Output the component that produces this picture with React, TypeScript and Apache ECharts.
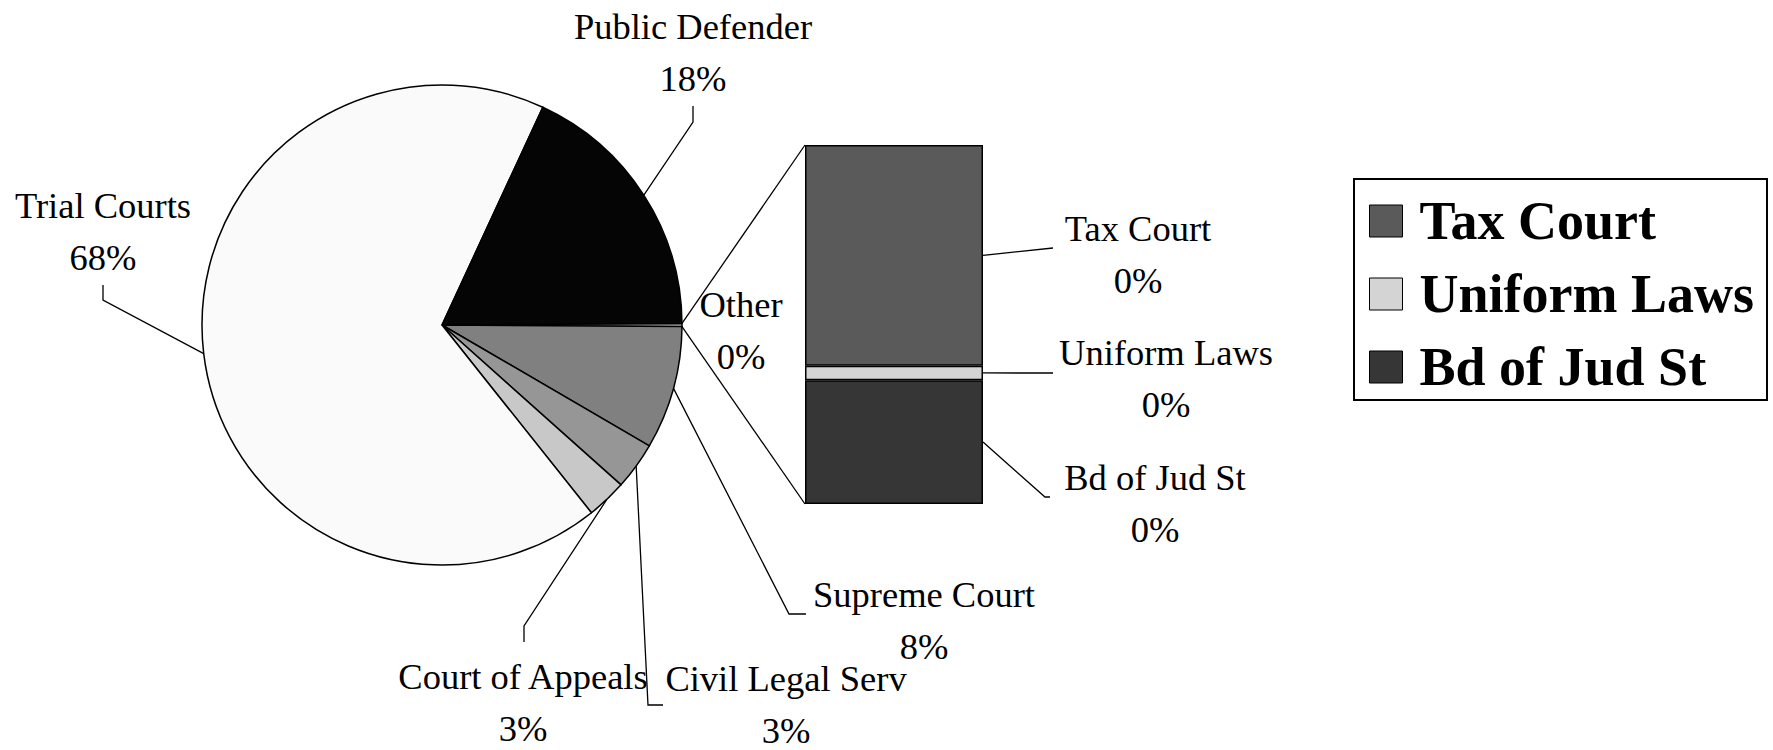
import React, { useEffect, useRef } from 'react';
import * as echarts from 'echarts';

// ---- data ----
const pieNames = ['Supreme Court', 'Civil Legal Serv', 'Court of Appeals', 'Trial Courts', 'Public Defender'];
const pieValues = [8.3, 3.2, 2.7, 67.6, 18.0];
const pieColors = ['#808080', '#969696', '#c8c8c8', '#fafafa', '#050505'];
const otherName = 'Other';
const otherColor = '#ffffff';
const barNames = ['Tax Court', 'Uniform Laws', 'Bd of Jud St'];
const barValues = [0.123, 0.008, 0.069];
const barColors = ['#5a5a5a', '#d4d4d4', '#363636'];
const stackOrder = [2, 1, 0]; // bottom to top

// ---- layout ----
const FONT = '"Times New Roman", "Liberation Serif", serif';
const PIE_CENTER = [442, 325];
const PIE_R = 240;
const GRID = { left: 805, top: 145, width: 178, height: 359 };
const PIE_LABEL_POS: Record<string, any> = {
  'Other': { x: 741, y: 330 },
  'Supreme Court': { x: 924, y: 620, line: [[789, 614], [806, 614]] },
  'Civil Legal Serv': { x: 786, y: 704, line: [[648, 705], [663, 705]] },
  'Court of Appeals': { x: 523, y: 702, line: [[524, 626], [524, 642]] },
  'Trial Courts': { x: 103, y: 231, line: [[103, 300], [103, 285]] },
  'Public Defender': { x: 693, y: 52, line: [[693, 122], [693, 106]] },
};
const BAR_LABEL_POS: Record<string, any> = {
  'Tax Court': { x: 1138, y: 254, line: [[1053, 248]] },
  'Uniform Laws': { x: 1166, y: 378, line: [[1053, 373]] },
  'Bd of Jud St': { x: 1155, y: 503, line: [[1045, 497], [1050, 497]] },
};

export default function App() {
  const ref = useRef<HTMLDivElement>(null);
  useEffect(() => {
    if (!ref.current) return;
    const chart = echarts.init(ref.current, null, { renderer: 'svg' });
    const otherSum = barValues.reduce((a, b) => a + b, 0);
    const total = pieValues.reduce((a, b) => a + b, 0) + otherSum;
    const pct = (v: number) => `${Math.round((v / total) * 100)}%`;
    const otherDeg = (otherSum / total) * 360;

    const pieOrder = [otherName, ...pieNames];
    const pieData = [
      { name: otherName, value: otherSum, itemStyle: { color: otherColor }, labelLine: { show: false } },
      ...pieNames.map((n, i) => ({ name: n, value: pieValues[i], itemStyle: { color: pieColors[i] } })),
    ];

    const labelText = {
      fontFamily: FONT,
      fontSize: 36.5,
      lineHeight: 52,
      color: '#000',
    };

    const barSeries = stackOrder.map((i) => ({
      type: 'bar',
      name: barNames[i],
      stack: 'other',
      data: [barValues[i]],
      barWidth: '100%',
      itemStyle: { color: barColors[i], borderColor: '#000', borderWidth: 1.5 },
      label: {
        show: true,
        position: 'right',
        ...labelText,
        formatter: (p: any) => `${p.seriesName}\n${pct(p.value)}`,
      },
      labelLayout: {
        x: BAR_LABEL_POS[barNames[i]].x,
        y: BAR_LABEL_POS[barNames[i]].y,
        align: 'center',
        verticalAlign: 'middle',
      },
      emphasis: { disabled: true },
    }));

    const option: any = {
      animation: false,
      backgroundColor: '#ffffff',
      grid: { ...GRID, containLabel: false },
      xAxis: { type: 'category', data: [otherName], show: false },
      yAxis: { type: 'value', min: 0, max: otherSum, show: false },
      legend: {
        data: barNames,
        orient: 'vertical',
        left: 1354,
        top: 179,
        padding: [15, 13, 6, 15],
        itemWidth: 33,
        itemHeight: 32,
        itemGap: 19,
        borderColor: '#000',
        borderWidth: 2,
        icon: 'rect',
        selectedMode: false,
        itemStyle: { borderColor: '#000', borderWidth: 1 },
        textStyle: {
          fontFamily: FONT,
          fontSize: 54,
          fontWeight: 'bold',
          lineHeight: 54,
          color: '#000',
          padding: [0, 0, 0, 12],
        },
      },
      series: [
        {
          type: 'pie',
          center: PIE_CENTER,
          radius: PIE_R,
          startAngle: otherDeg / 2,
          clockwise: true,
          avoidLabelOverlap: false,
          data: pieData,
          itemStyle: { borderColor: '#000', borderWidth: 1.5 },
          label: {
            show: true,
            position: 'outside',
            ...labelText,
            formatter: (p: any) => `${p.name}\n${pct(p.value)}`,
          },
          labelLine: { show: true, length: 20, length2: 10, lineStyle: { color: '#000', width: 1.3 } },
          labelLayout: (params: any) => {
            const name = pieOrder[params.dataIndex];
            const L = PIE_LABEL_POS[name];
            const res: any = { x: L.x, y: L.y, align: 'center', verticalAlign: 'middle' };
            if (L.line) {
              let start = params.labelLinePoints && params.labelLinePoints[0];
              if (!start) {
                // fallback: mid-angle of slice on the outer edge
                let acc = 0;
                for (let k = 0; k < params.dataIndex; k++) acc += pieData[k].value;
                const mid = otherDeg / 2 - ((acc + pieData[params.dataIndex].value / 2) / total) * 360;
                const rad = (mid * Math.PI) / 180;
                start = [PIE_CENTER[0] + PIE_R * Math.cos(rad), PIE_CENTER[1] - PIE_R * Math.sin(rad)];
              }
              res.labelLinePoints = [start, ...L.line];
            }
            return res;
          },
          emphasis: { disabled: true },
        },
        ...barSeries,
      ],
    };
    chart.setOption(option);

    // leader lines of the bar and connectors, positioned through the axes' scales
    const yOf = (v: number) => chart.convertToPixel({ yAxisIndex: 0 }, v) as number;
    const right = GRID.left + GRID.width;
    const graphics: any[] = [];
    let cum = 0;
    const mids: Record<string, number> = {};
    stackOrder.forEach((i) => {
      mids[barNames[i]] = cum + barValues[i] / 2;
      cum += barValues[i];
    });
    barNames.forEach((n) => {
      const pts = [[right, yOf(mids[n])], ...BAR_LABEL_POS[n].line];
      graphics.push({ type: 'polyline', shape: { points: pts }, style: { stroke: '#000', lineWidth: 1.3, fill: null }, silent: true });
    });
    const half = ((otherDeg / 2) * Math.PI) / 180;
    const ex = PIE_CENTER[0] + PIE_R * Math.cos(half);
    const upY = PIE_CENTER[1] - PIE_R * Math.sin(half);
    const dnY = PIE_CENTER[1] + PIE_R * Math.sin(half);
    graphics.push({ type: 'line', shape: { x1: ex, y1: upY, x2: GRID.left, y2: yOf(otherSum) }, style: { stroke: '#000', lineWidth: 1.3 }, silent: true });
    graphics.push({ type: 'line', shape: { x1: ex, y1: dnY, x2: GRID.left, y2: yOf(0) }, style: { stroke: '#000', lineWidth: 1.3 }, silent: true });
    chart.setOption({ graphic: graphics });

    return () => chart.dispose();
  }, []);
  return <div ref={ref} style={{ position: 'absolute', left: 0, top: 0, width: 1773, height: 750, background: '#fff' }} />;
}
